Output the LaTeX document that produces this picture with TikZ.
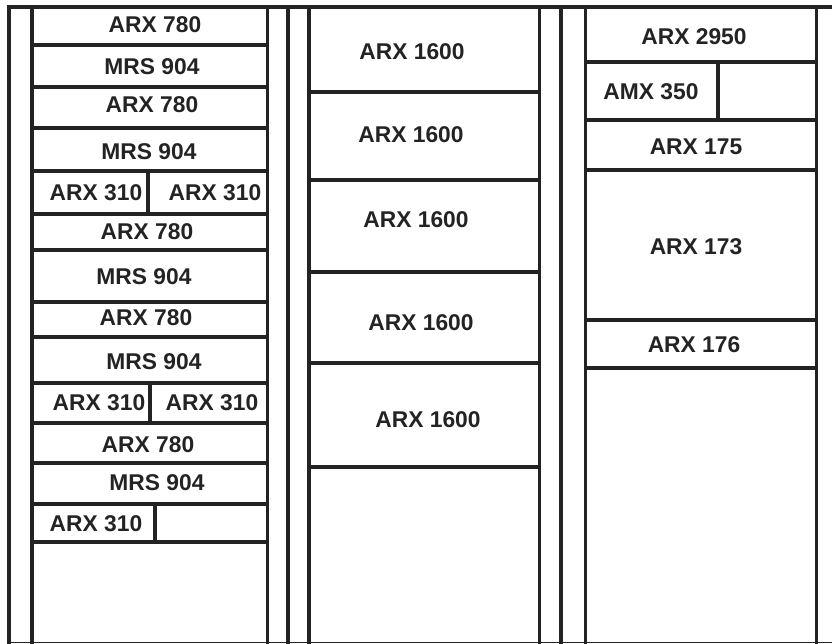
\documentclass[tikz,border=0pt]{standalone}
\usepackage{fontspec}
\setmainfont{Liberation Sans}
\definecolor{ink}{RGB}{35,35,35}
\tikzset{
  rail/.style={line width=3.2pt, draw=ink, line cap=rect},
  sep/.style={line width=3.4pt, draw=ink},
  lbl/.style={inner sep=0pt, text=ink, font=\bfseries\fontsize{22.8pt}{26pt}\selectfont}
}
\begin{document}
\begin{tikzpicture}[x=1pt,y=-1pt]
\useasboundingbox (0,0) rectangle (832,644);
\fill[white] (0,0) rectangle (832,644);
% outer top and bottom
\draw[rail] (9,7) -- (832,7);
\draw[line width=1.8pt, draw=ink] (9,642.5) -- (832,642.5);
% vertical rails
\foreach \x in {9,32,267.5,288,309,539.5,561,585.5,816.5}
  \draw[rail] (\x,7) -- (\x,642);
% left column separators
\foreach \y in {45,87,128,171,214,250,302,337,383,423,463,504,542}
  \draw[sep] (32,\y) -- (267.5,\y);
\draw[sep] (148,171) -- (148,214);
\draw[sep] (150,383) -- (150,423);
\draw[sep] (155,504) -- (155,542);
% middle column separators
\foreach \y in {92,180,272,363}
  \draw[sep] (309,\y) -- (539.5,\y);
\draw[line width=4.4pt, draw=ink] (309,467) -- (539.5,467);
% right column separators
\foreach \y in {62,120,170,320,368}
  \draw[sep] (585.5,\y) -- (816.5,\y);
\draw[sep] (718,62) -- (718,120);
% left labels
\node[lbl] (l1) at (155,25) {ARX 780};
\node[lbl] (l2) at (152,67) {MRS 904};
\node[lbl] (l3) at (152,105) {ARX 780};
\node[lbl] (l4) at (149,152) {MRS 904};
\node[lbl] (l5a) at (96,193) {ARX 310};
\node[lbl] (l5b) at (215,193) {ARX 310};
\node[lbl] (l6) at (147,232) {ARX 780};
\node[lbl] (l7) at (144,277) {MRS 904};
\node[lbl] (l8) at (146,318) {ARX 780};
\node[lbl] (l9) at (154,362) {MRS 904};
\node[lbl] (l10a) at (99,403) {ARX 310};
\node[lbl] (l10b) at (212,403) {ARX 310};
\node[lbl] (l11) at (148,445) {ARX 780};
\node[lbl] (l12) at (157,483) {MRS 904};
\node[lbl] (l13) at (96,524) {ARX 310};
% middle labels
\node[lbl] (m1) at (412,52) {ARX 1600};
\node[lbl] (m2) at (411,135) {ARX 1600};
\node[lbl] (m3) at (416,220) {ARX 1600};
\node[lbl] (m4) at (421,323) {ARX 1600};
\node[lbl] (m5) at (428,420) {ARX 1600};
% right labels
\node[lbl] (r1) at (694,37) {ARX 2950};
\node[lbl] (r2) at (651,92) {AMX 350};
\node[lbl] (r3) at (696,147) {ARX 175};
\node[lbl] (r4) at (696,247) {ARX 173};
\node[lbl] (r5) at (694,345) {ARX 176};
\end{tikzpicture}
\end{document}
